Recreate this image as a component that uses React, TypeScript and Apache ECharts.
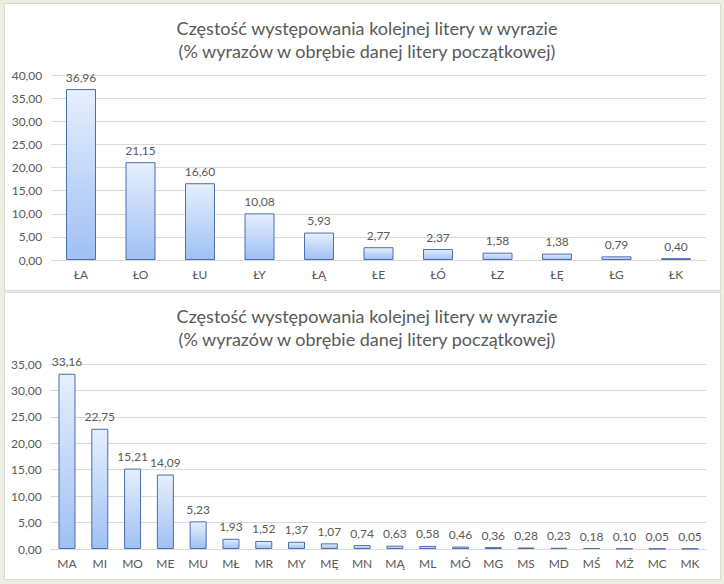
import React, { useEffect, useRef } from "react";
import * as echarts from "echarts";

const titleText = "Częstość występowania kolejnej litery w wyrazie\n(% wyrazów w obrębie danej litery początkowej)";

const topCategories = ["ŁA", "ŁO", "ŁU", "ŁY", "ŁĄ", "ŁE", "ŁÓ", "ŁZ", "ŁĘ", "ŁG", "ŁK"];
const topValues = [36.96, 21.15, 16.6, 10.08, 5.93, 2.77, 2.37, 1.58, 1.38, 0.79, 0.4];

const bottomCategories = ["MA", "MI", "MO", "ME", "MU", "MŁ", "MR", "MY", "MĘ", "MN", "MĄ", "ML", "MÓ", "MG", "MS", "MD", "MŚ", "MŻ", "MC", "MK"];
const bottomValues = [33.16, 22.75, 15.21, 14.09, 5.23, 1.93, 1.52, 1.37, 1.07, 0.74, 0.63, 0.58, 0.46, 0.36, 0.28, 0.23, 0.18, 0.1, 0.05, 0.05];

const FONT = "Lato, 'Liberation Sans', sans-serif";
const TXT = "#595959";

const fmt = (v: number) => v.toFixed(2).replace(".", ",");

const barFill = new echarts.graphic.LinearGradient(0, 0, 0, 1, [
  { offset: 0, color: "#e6effd" },
  { offset: 1, color: "#9fc0f4" },
]);

function App() {
  const ref = useRef<HTMLDivElement>(null);
  useEffect(() => {
    if (!ref.current) return;
    const chart = echarts.init(ref.current, undefined, { renderer: "svg" });
    const yAxisCommon = {
      type: "value" as const,
      min: 0,
      interval: 5,
      axisLabel: { color: TXT, fontFamily: FONT, fontSize: 12, formatter: (v: number) => fmt(v), margin: 9 },
      axisLine: { show: false },
      axisTick: { show: false },
      splitLine: { lineStyle: { color: "#d9d9d9", width: 1 } },
    };
    const xAxisCommon = {
      type: "category" as const,
      axisLabel: { color: TXT, fontFamily: FONT, fontSize: 12, margin: 8, interval: 0 },
      axisLine: { lineStyle: { color: "#d9d9d9" } },
      axisTick: { show: false },
    };
    const seriesCommon = {
      type: "bar" as const,
      itemStyle: { color: barFill, borderColor: "#4a6eae", borderWidth: 1 },
      label: {
        show: true,
        position: "top" as const,
        distance: 6,
        color: TXT,
        fontFamily: FONT,
        fontSize: 12,
        formatter: (p: any) => fmt(p.value),
      },
    };
    const titleStyle = { color: TXT, fontFamily: FONT, fontSize: 18, fontWeight: "normal", lineHeight: 23, align: "center" };
    chart.setOption({
      animation: false,
      backgroundColor: "#eceee2",
      graphic: [
        { type: "rect", shape: { x: 4.5, y: 3.5, width: 716, height: 287 }, style: { fill: "#ffffff", stroke: "#d9d9d9", lineWidth: 1 }, z: -10 },
        { type: "rect", shape: { x: 4.5, y: 292.5, width: 716, height: 287 }, style: { fill: "#ffffff", stroke: "#d9d9d9", lineWidth: 1 }, z: -10 },
      ],
      title: [
        { text: titleText, left: 362, top: 11, textAlign: "center", textStyle: titleStyle },
        { text: titleText, left: 362, top: 299, textAlign: "center", textStyle: titleStyle },
      ],
      grid: [
        { left: 51.25, width: 654.5, top: 75, height: 185 },
        { left: 50.6, width: 655.8, top: 364, height: 185 },
      ],
      xAxis: [
        { ...xAxisCommon, gridIndex: 0, data: topCategories },
        { ...xAxisCommon, gridIndex: 1, data: bottomCategories },
      ],
      yAxis: [
        { ...yAxisCommon, gridIndex: 0, max: 40 },
        { ...yAxisCommon, gridIndex: 1, max: 35 },
      ],
      series: [
        { ...seriesCommon, xAxisIndex: 0, yAxisIndex: 0, data: topValues, barWidth: 30 },
        { ...seriesCommon, xAxisIndex: 1, yAxisIndex: 1, data: bottomValues, barWidth: 17 },
      ],
    });
    return () => chart.dispose();
  }, []);
  return (
    <div
      ref={ref}
      style={{ position: "fixed", left: 0, top: 0, width: 724, height: 584 }}
    />
  );
}

export default App;
